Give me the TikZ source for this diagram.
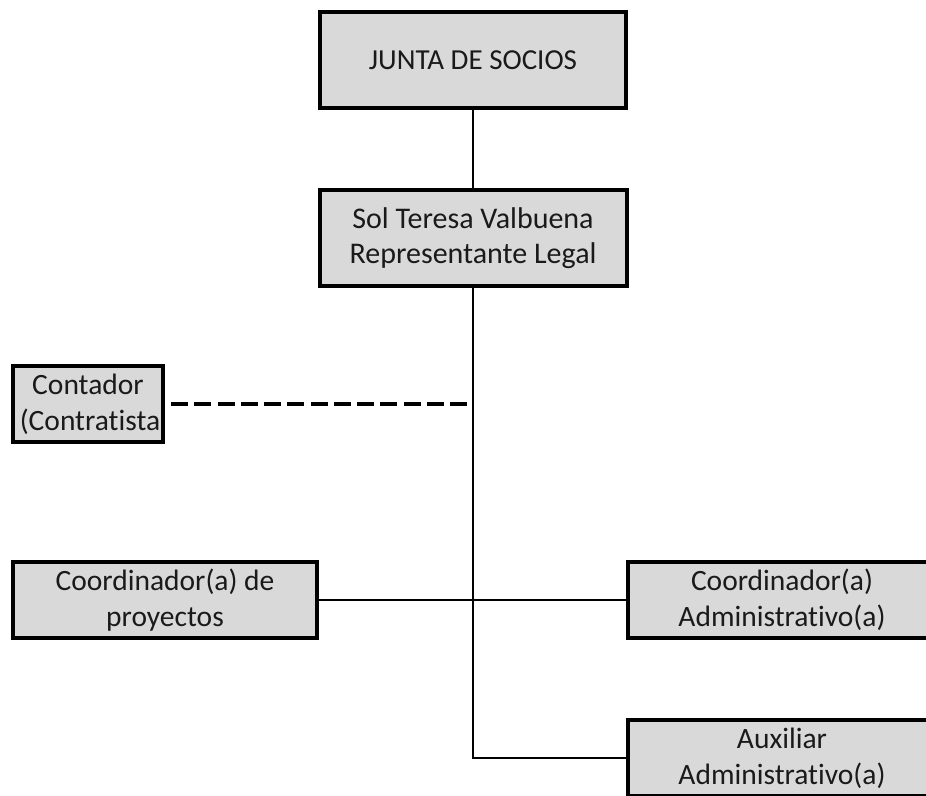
\documentclass[tikz,border=0pt]{standalone}
\usepackage{fontspec}
\setmainfont{Carlito}[Ligatures=NoCommon]
\definecolor{boxgray}{HTML}{D9D9D9}
\definecolor{txt}{HTML}{1A1A1A}
\tikzset{
  orgbox/.style={draw=black, line width=4pt, fill=boxgray, rectangle, inner sep=0pt,
    align=center, font=\fontsize{29.5}{36}\selectfont, text=txt},
  link/.style={draw=black, line width=2pt},
  dashlink/.style={draw=black, line width=4pt, dash pattern=on 17pt off 6.25pt}
}
\begin{document}
\begin{tikzpicture}[x=1pt,y=-1pt]
\useasboundingbox (0,0) rectangle (926,795);
\clip (0,0) rectangle (926,795);
\node[orgbox, minimum width=306pt, minimum height=96pt, font=\fontsize{29}{34}\selectfont] (junta) at (473,60) {JUNTA DE SOCIOS};
\node[orgbox, minimum width=307pt, minimum height=96pt, font=\fontsize{30}{35}\selectfont] (sol) at (473,238) {Sol Teresa Valbuena\\Representante Legal};
\node[orgbox, minimum width=150pt, minimum height=76pt] (cont) at (88,404) {Contador\\\hspace*{4pt}(Contratista};
\node[orgbox, minimum width=304pt, minimum height=76pt] (coordp) at (165,600) {Coordinador(a) de\\proyectos};
\node[orgbox, minimum width=308pt, minimum height=76pt] (coorda) at (782,600) {Coordinador(a)\\Administrativo(a)};
\node[orgbox, minimum width=308pt, minimum height=76pt] (aux) at (782,758) {Auxiliar\\Administrativo(a)};
\coordinate (dashend) at (469,403);
\draw[link] (junta.south) -- (sol.north);
\draw[link] (sol.south) |- (aux.west);
\draw[link] (coordp.east) -- (coorda.west);
\draw[dashlink] ([xshift=6pt]cont.east) -- (cont.east -| dashend);
\end{tikzpicture}
\end{document}
